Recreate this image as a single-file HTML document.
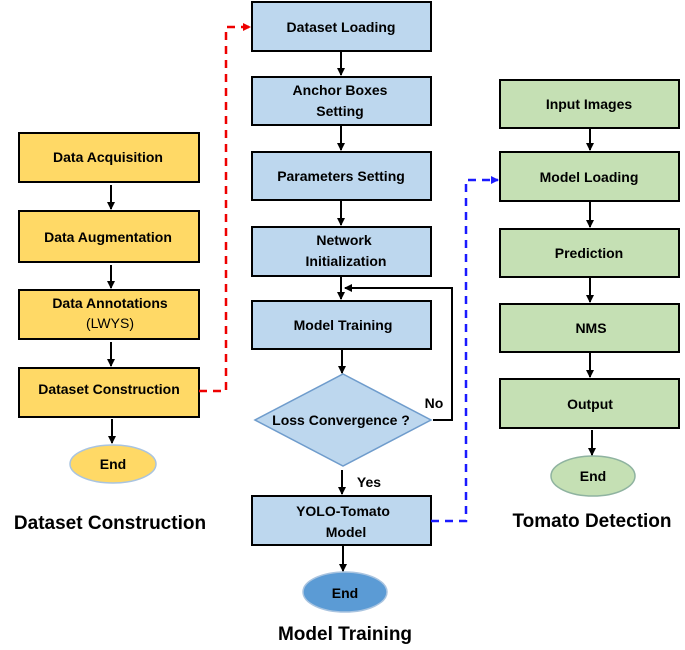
<!DOCTYPE html><html><head><style>body{margin:0;background:#fff}</style></head><body>
<svg width="685" height="645" xmlns="http://www.w3.org/2000/svg" font-family="Liberation Sans, sans-serif" font-weight="bold">
<defs><marker id="a" markerWidth="8" markerHeight="8" refX="7" refY="4" orient="auto" markerUnits="userSpaceOnUse"><path d="M0,0 L8,4 L0,8z" fill="#000"/></marker>
<marker id="r" markerWidth="8" markerHeight="8" refX="7" refY="4" orient="auto" markerUnits="userSpaceOnUse"><path d="M0,0 L8,4 L0,8z" fill="#e00"/></marker>
<marker id="b" markerWidth="8" markerHeight="8" refX="7" refY="4" orient="auto" markerUnits="userSpaceOnUse"><path d="M0,0 L8,4 L0,8z" fill="#1a1aff"/></marker></defs>
<g stroke="#000" stroke-width="2" fill="#ffd966">
<rect x="19" y="133" width="180" height="49"/><rect x="19" y="211" width="180" height="51"/><rect x="19" y="290" width="180" height="49"/><rect x="19" y="368" width="180" height="49"/></g>
<ellipse cx="113" cy="464" rx="43" ry="19" fill="#ffd966" stroke="#a9c4e0" stroke-width="1.5"/>
<g stroke="#000" stroke-width="2" fill="#bdd7ee">
<rect x="252" y="2" width="179" height="49"/><rect x="252" y="77" width="179" height="48"/><rect x="252" y="152" width="179" height="48"/><rect x="252" y="227" width="179" height="49"/><rect x="252" y="301" width="179" height="48"/><rect x="252" y="496" width="179" height="49"/></g>
<polygon points="343,374 431,420 343,466 255,420" fill="#bdd7ee" stroke="#6f9ccc" stroke-width="1.5"/>
<ellipse cx="345" cy="592" rx="42" ry="20" fill="#5b9bd5" stroke="#a9c4e0" stroke-width="1.5"/>
<g stroke="#000" stroke-width="2" fill="#c5e0b4">
<rect x="500" y="80" width="179" height="48"/><rect x="500" y="152" width="179" height="49"/><rect x="500" y="229" width="179" height="48"/><rect x="500" y="304" width="179" height="48"/><rect x="500" y="379" width="179" height="49"/></g>
<ellipse cx="593" cy="476" rx="42" ry="20" fill="#c5e0b4" stroke="#8fb3a0" stroke-width="1.5"/>
<g stroke="#000" stroke-width="2" fill="none" marker-end="url(#a)">
<line x1="111" y1="185" x2="111" y2="209"/><line x1="111" y1="265" x2="111" y2="288"/><line x1="111" y1="342" x2="111" y2="366"/><line x1="112" y1="419" x2="112" y2="443"/>
<line x1="341" y1="52" x2="341" y2="75"/><line x1="341" y1="126" x2="341" y2="150"/><line x1="341" y1="201" x2="341" y2="225"/><line x1="341" y1="277" x2="341" y2="299"/>
<line x1="342" y1="350" x2="342" y2="373"/><line x1="342" y1="470" x2="342" y2="494"/><line x1="343" y1="546" x2="343" y2="571"/>
<polyline points="433,420 452,420 452,288 345,288"/>
<line x1="590" y1="129" x2="590" y2="150"/><line x1="590" y1="202" x2="590" y2="227"/><line x1="590" y1="278" x2="590" y2="302"/><line x1="590" y1="353" x2="590" y2="377"/><line x1="592" y1="430" x2="592" y2="455"/>
</g>
<polyline points="199,391 226,391 226,27 250,27" fill="none" stroke="#e00" stroke-width="2.5" stroke-dasharray="8,6" marker-end="url(#r)"/>
<polyline points="431,521 466,521 466,180 498,180" fill="none" stroke="#1a1aff" stroke-width="2.5" stroke-dasharray="8,6" marker-end="url(#b)"/>
<g font-size="14" text-anchor="middle" fill="#000">
<text x="108" y="162">Data Acquisition</text><text x="108" y="242">Data Augmentation</text><text x="110" y="308">Data Annotations</text><text x="110" y="328" font-weight="normal">(LWYS)</text><text x="109" y="394">Dataset Construction</text><text x="113" y="469">End</text>
<text x="341" y="32">Dataset Loading</text><text x="340" y="95">Anchor Boxes</text><text x="340" y="116">Setting</text><text x="341" y="181">Parameters Setting</text><text x="344" y="245">Network</text><text x="346" y="266">Initialization</text><text x="343" y="330">Model Training</text>
<text x="341" y="425">Loss Convergence ?</text><text x="434" y="408">No</text><text x="369" y="487">Yes</text>
<text x="343" y="516">YOLO-Tomato</text><text x="346" y="537">Model</text><text x="345" y="598">End</text>
<text x="589" y="109">Input Images</text><text x="589" y="182">Model Loading</text><text x="589" y="258">Prediction</text><text x="591" y="333">NMS</text><text x="590" y="409">Output</text><text x="593" y="481">End</text>
</g>
<g font-size="19" text-anchor="middle"><text x="110" y="529">Dataset Construction</text><text x="345" y="640">Model Training</text><text x="592" y="527">Tomato Detection</text></g>
</svg></body></html>
